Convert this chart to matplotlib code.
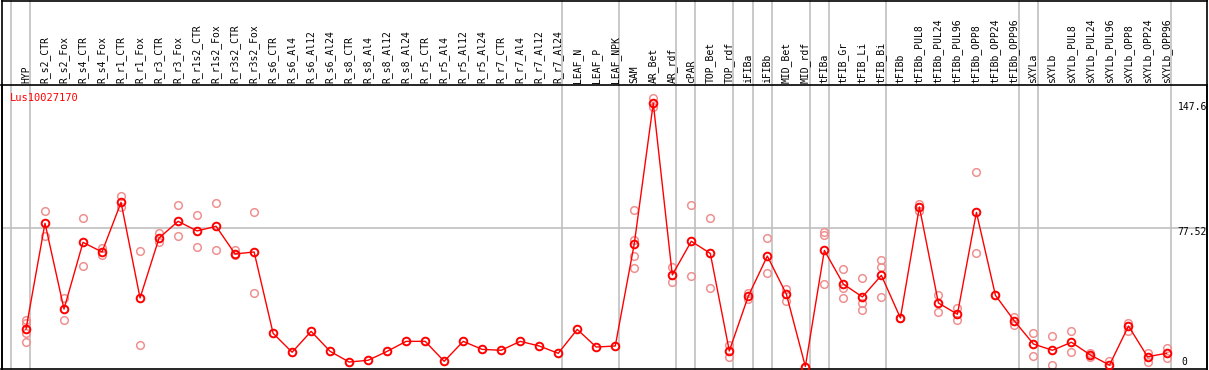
import matplotlib
matplotlib.use("Agg")
import matplotlib.pyplot as plt
import matplotlib.transforms as mtransforms
from matplotlib.lines import Line2D

plt.rcParams['font.family'] = ['DejaVu Sans Mono']

samples = ['HYP', 'R_s2_CTR', 'R_s2_Fox', 'R_s4_CTR', 'R_s4_Fox', 'R_r1_CTR', 'R_r1_Fox',
           'R_r3_CTR', 'R_r3_Fox', 'R_r1s2_CTR', 'R_r1s2_Fox', 'R_r3s2_CTR', 'R_r3s2_Fox',
           'R_s6_CTR', 'R_s6_Al4', 'R_s6_Al12', 'R_s6_Al24', 'R_s8_CTR', 'R_s8_Al4',
           'R_s8_Al12', 'R_s8_Al24', 'R_r5_CTR', 'R_r5_Al4', 'R_r5_Al12', 'R_r5_Al24',
           'R_r7_CTR', 'R_r7_Al4', 'R_r7_Al12', 'R_r7_Al24', 'LEAF_N', 'LEAF_P', 'LEAF_NPK',
           'SAM', 'AR_Bet', 'AR_rdf', 'cPAR', 'TOP_Bet', 'TOP_rdf', 'iFIBa', 'iFIBb',
           'MID_Bet', 'MID_rdf', 'tFIBa', 'tFIB_Gr', 'tFIB_Li', 'tFIB_Bi', 'tFIBb',
           'tFIBb_PUL8', 'tFIBb_PUL24', 'tFIBb_PUL96', 'tFIBb_OPP8', 'tFIBb_OPP24',
           'tFIBb_OPP96', 'sXYLa', 'sXYLb', 'sXYLb_PUL8', 'sXYLb_PUL24', 'sXYLb_PUL96',
           'sXYLb_OPP8', 'sXYLb_OPP24', 'sXYLb_OPP96']

# mean expression per sample
means = [21.0, 80.3, 32.2, 69.6, 64.2, 92.0, 38.4, 72.0, 81.4, 76.0, 78.6, 63.1, 64.2,
         18.6, 8.0, 19.7, 8.5, 2.5, 3.5, 8.5, 14.1, 14.1, 2.9, 14.1, 9.6, 9.1, 14.1, 11.5,
         7.4, 20.8, 10.9, 11.5,
         68.8, 147.6, 51.3, 70.2, 63.4, 8.7, 39.5, 61.9, 40.6, 0.0, 65.1, 46.2, 39.0, 51.1,
         27.2, 89.4, 35.6, 29.3, 86.4, 39.9, 25.5, 12.6, 9.1, 13.6, 6.4, 0.8, 22.7, 5.5, 7.4]

# replicate values per sample
reps = [[26.1, 24.2, 18.6, 13.6], [87.0, 73.2], [38.2, 26.1], [83.1, 56.2], [66.2, 62.3],
        [95.6, 89.6], [64.7, 12.1], [74.7, 69.6], [90.4, 73.2], [84.7, 66.8], [91.5, 65.3],
        [65.3, 62.3], [86.4, 41.0],
        [], [], [], [], [], [], [], [], [], [], [], [], [], [], [], [], [], [], [],
        [87.7, 70.7, 61.9, 55.0], [150.7, 145.6], [55.6, 47.2], [90.3, 50.7], [83.2, 43.8],
        [12.1, 5.2], [41.4, 37.8], [71.9, 52.2], [43.4, 36.9], [0.0],
        [75.6, 73.7, 46.1], [54.5, 43.8, 38.6], [49.4, 35.8, 31.7], [59.7, 55.6, 38.8],
        [27.2], [91.1, 87.2], [40.1, 30.4], [32.6, 26.1], [108.9, 63.4], [39.9],
        [27.6, 23.4], [18.6, 5.9], [17.1, 0.7], [19.9, 8.0], [7.5, 5.3], [3.1],
        [24.6, 20.1], [7.7, 2.7], [10.5, 4.6]]

# group separators (after these sample indices)
separators = [-1, 0, 28, 31, 34, 35, 37, 38, 39, 41, 42, 45, 52, 53, 60]
ticks = [147.6, 77.52, 0]

W, H = 1209, 370
fig = plt.figure(figsize=(W / 100, H / 100), dpi=100)
top_px, bot_px = 85, 369
ax = fig.add_axes([1.5 / W, (H - bot_px) / H, (1207 - 1.5) / W, (bot_px - top_px) / H])
ax.set_xlim(-1.289, 62.13)
ax.set_ylim(-1.4, 157.8)
ax.set_xticks([])
ax.set_yticks([])
for s in ax.spines.values():
    s.set_linewidth(1.2)

ext = 1 + top_px / (bot_px - top_px)
for s in separators:
    ax.axvline(s + 0.22, ymin=0, ymax=ext, color='#c0c0c0', lw=1.2, clip_on=False, zorder=1)
ax.axhline(77.52, color='#c0c0c0', lw=1.2, zorder=1)

xs = list(range(len(samples)))
for i, r in enumerate(reps):
    if r:
        ax.plot([i] * len(r), r, 'o', mfc='none', mec='#f09090', ms=5.5, mew=1.1, zorder=2)
ax.plot(xs, means, '-', color='red', lw=1.0, zorder=3)
ax.plot(xs, means, 'o', mfc='none', mec='red', ms=5.5, mew=1.4, zorder=4)

# sample labels above the plot
trans = mtransforms.blended_transform_factory(ax.transData, ax.transAxes)
for i, name in enumerate(samples):
    ax.text(i, 1 + 2 / (bot_px - top_px), name, rotation=90, ha='center', va='bottom',
            fontsize=7, transform=trans, clip_on=False)

# value labels on the right
ytrans = mtransforms.blended_transform_factory(ax.transAxes, ax.transData)
for t in ticks:
    lab = ('%g' % t)
    if t == 0:
        ax.text(0.9785, t, lab, ha='left', va='bottom', fontsize=7, transform=ytrans)
    else:
        tr = mtransforms.offset_copy(ytrans, fig=fig, y=-3.4, units='dots')
        ax.text(0.9755, t, lab, ha='left', va='center', fontsize=7, transform=tr)

fig.text(10 / W, 1 - 97.7 / H, 'Lus10027170', color='red', fontsize=7.5, va='center', ha='left')

# outer frame
fig.add_artist(Line2D([1.5 / W, 1207 / W], [1 - 0.6 / H, 1 - 0.6 / H], color='black', lw=1.2))
fig.add_artist(Line2D([1.5 / W, 1.5 / W], [0, 1], color='black', lw=1.2))
fig.add_artist(Line2D([1207 / W, 1207 / W], [0, 1], color='black', lw=1.2))

fig.savefig('out.png', dpi=100)
